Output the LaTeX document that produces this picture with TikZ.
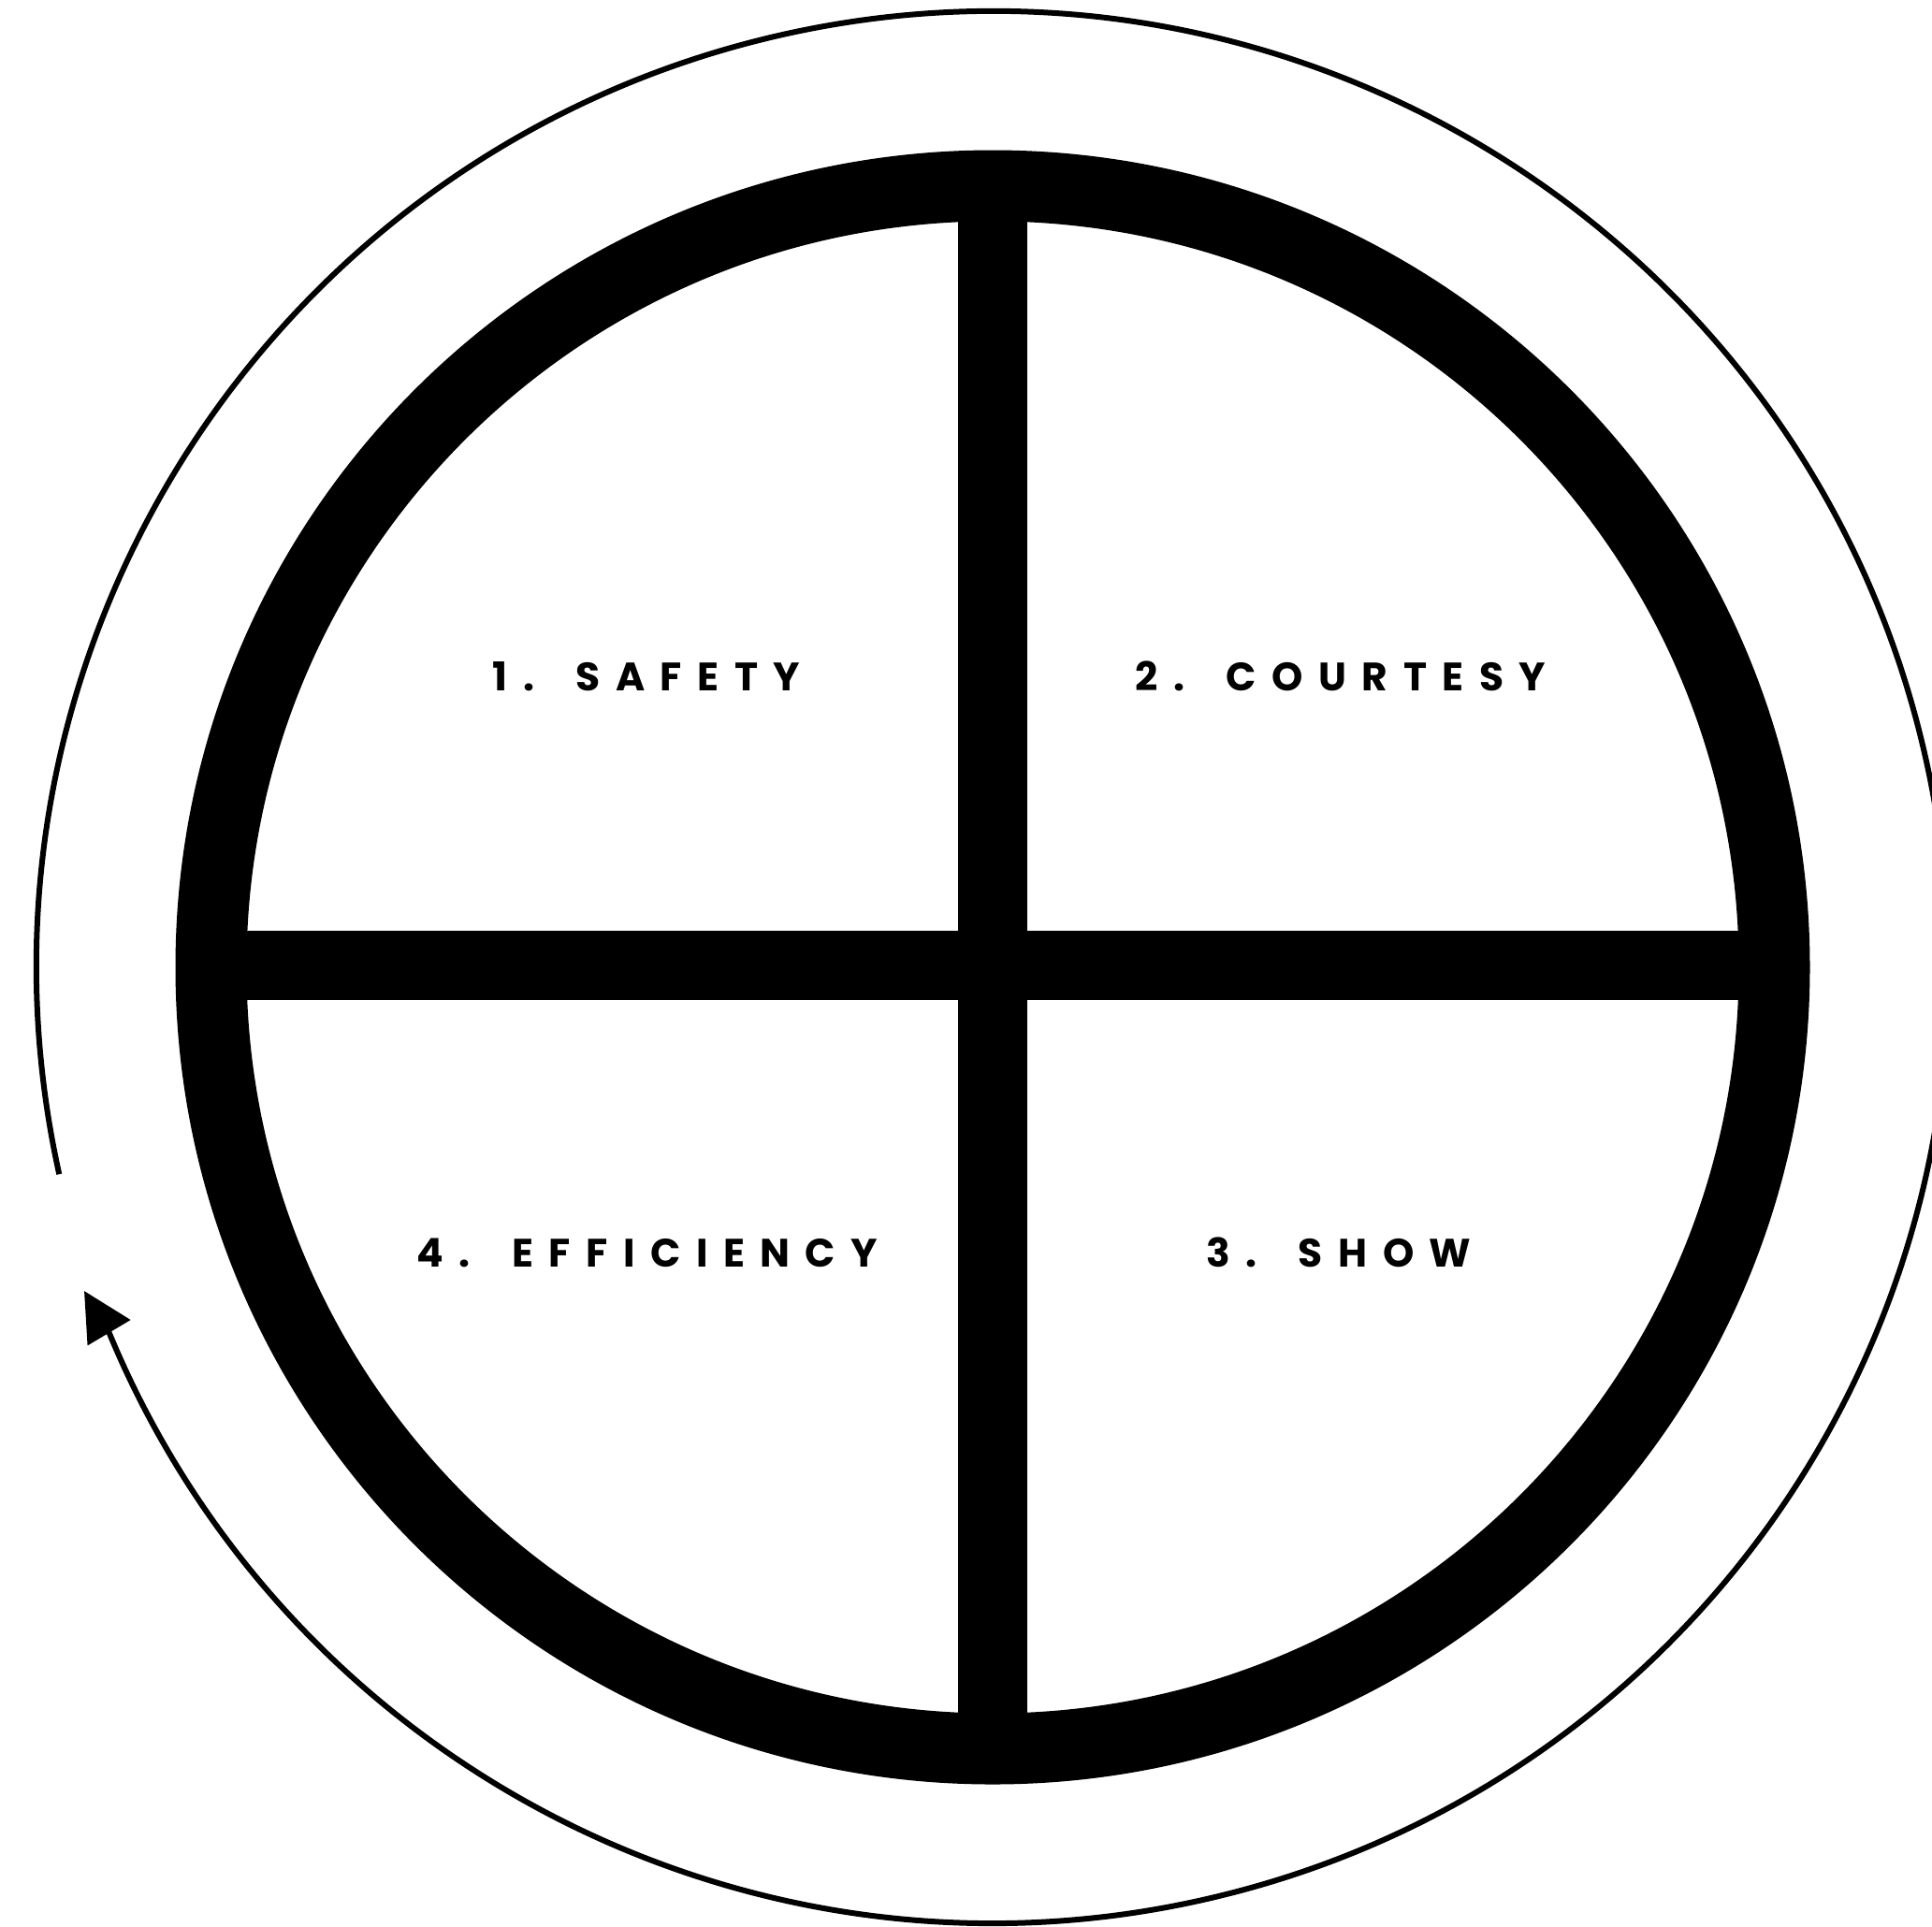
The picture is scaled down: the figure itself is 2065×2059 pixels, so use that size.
\documentclass[tikz,border=0pt]{standalone}
\usepackage{fontspec}
\usetikzlibrary{arrows.meta}
\newfontfamily\quadfont{Poppins}[LetterSpace=39,WordSpace=1.4]

\begin{document}
\begin{tikzpicture}[x=0.25pt,y=-0.25pt,
  ring/.style={circle,draw,line width=19pt,minimum size=417.75pt,inner sep=0pt,outer sep=0pt},
  bar/.style={line width=18.6pt},
  lbl/.style={inner sep=0pt,font=\quadfont\bfseries\fontsize{10.6}{12}\selectfont},
  cyc/.style={line width=1.5pt,-{Triangle[length=13pt,width=13pt]}}]
\useasboundingbox (0,0) rectangle (2065,2059);
\node[ring] (ring) at (1061,1034) {};
\draw[bar] (ring.north) -- (ring.south);
\draw[bar] ([yshift=0.5pt]ring.west) -- ([yshift=0.5pt]ring.east);
\node[lbl] (q1) at (691,723) {1. SAFETY};
\node[lbl] (q2) at (1433,723) {2. COURTESY};
\node[lbl] (q3) at (1431,1339) {3. SHOW};
\node[lbl] (q4) at (692,1339) {4. EFFICIENCY};
\coordinate (tip) at (90,1380);
\draw[cyc] ([shift={(167.5:1022)}]ring.center) arc[start angle=167.5,end angle=517.5,radius=1022] -- (tip);
\end{tikzpicture}
\end{document}
